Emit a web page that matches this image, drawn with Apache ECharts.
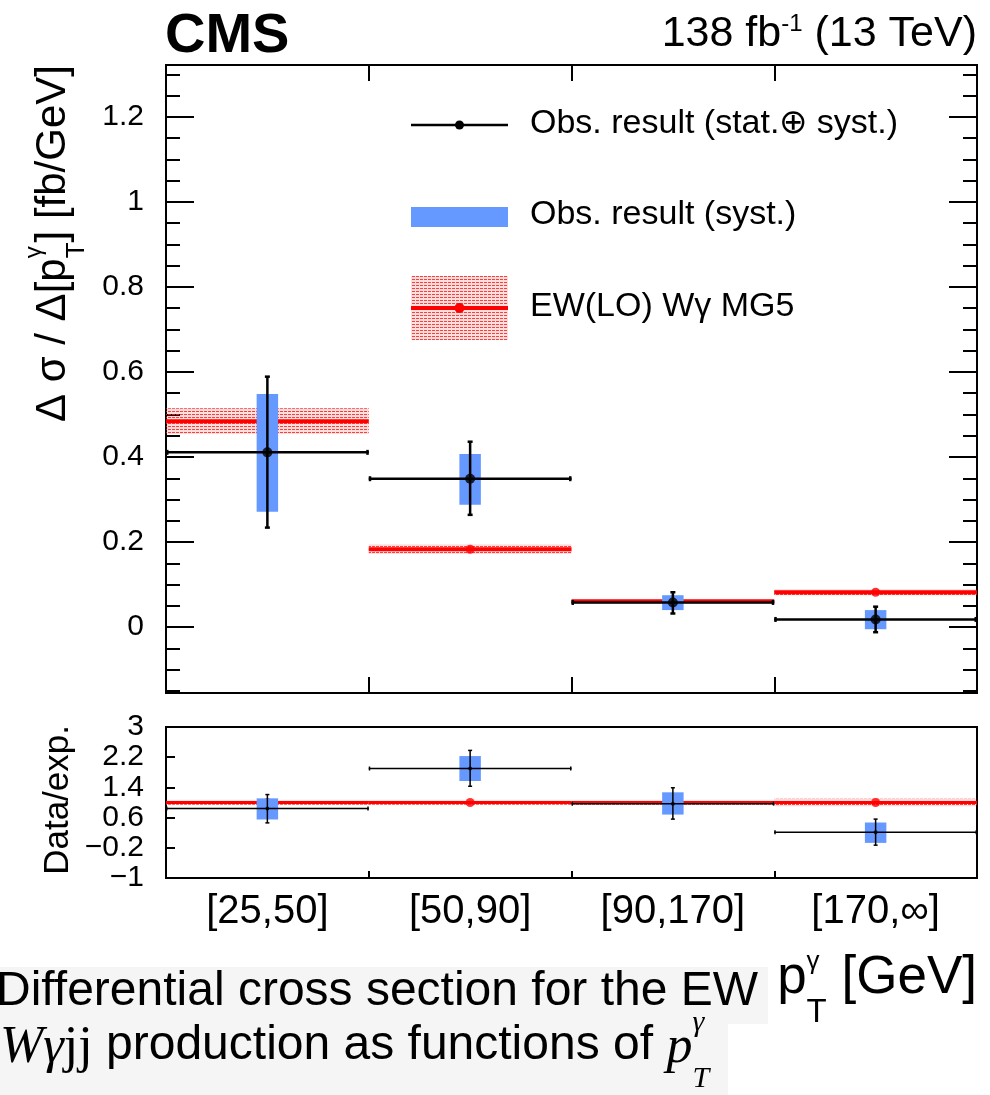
<!DOCTYPE html>
<html>
<head>
<meta charset="utf-8">
<script src="https://cdn.jsdelivr.net/npm/echarts@6/dist/echarts.min.js"></script>
<style>
  html, body { margin: 0; padding: 0; background: #fff; }
  #chart { width: 990px; height: 1095px; }
</style>
</head>
<body>
<div id="chart"></div>
<script>
// photon pT bins
const bins = ['[25,50]', '[50,90]', '[90,170]', '[170,\u221e]'];

// measured differential cross section (fb/GeV): central value, total and syst-only bounds
const obsValue    = [0.411, 0.349, 0.058, 0.018];
const obsTotLow   = [0.234, 0.264, 0.032, -0.012];
const obsTotHigh  = [0.589, 0.436, 0.082, 0.048];
const obsSystLow  = [0.271, 0.288, 0.040, -0.005];
const obsSystHigh = [0.548, 0.407, 0.075, 0.040];

// EW(LO) W-gamma MG5 prediction with its uncertainty band
const mcValue = [0.484, 0.183, 0.061, 0.082];
const mcLow   = [0.454, 0.172, 0.058, 0.075];
const mcHigh  = [0.515, 0.195, 0.064, 0.089];

// data / expectation
const ratioValue    = [0.84, 1.90, 0.97, 0.21];
const ratioTotLow   = [0.46, 1.43, 0.56, -0.13];
const ratioTotHigh  = [1.21, 2.38, 1.39, 0.56];
const ratioSystLow  = [0.55, 1.57, 0.68, -0.07];
const ratioSystHigh = [1.11, 2.23, 1.27, 0.47];
const mcRatio       = [1, 1, 1, 1];
const mcRatioLow    = [0.94, 0.94, 0.94, 0.90];
const mcRatioHigh   = [1.06, 1.06, 1.06, 1.10];

// axis tick labels
const mainTickValues  = [0, 0.2, 0.4, 0.6, 0.8, 1.0, 1.2];
const mainTickLabels  = ['0', '0.2', '0.4', '0.6', '0.8', '1', '1.2'];
const ratioTickValues = [-1, -0.2, 0.6, 1.4, 2.2, 3];
const ratioTickLabels = ['\u22121', '\u22120.2', '0.6', '1.4', '2.2', '3'];

// axis ranges
const mainMin = -0.155, mainMax = 1.322;
const ratioMin = -1, ratioMax = 3;

// layout
const PLOT_L = 166, PLOT_R = 977;
const MAIN_T = 65, MAIN_B = 693;
const RATIO_T = 727, RATIO_B = 878;
const FONT = '"Liberation Sans", Arial, Helvetica, sans-serif';
const SERIF = '"Liberation Serif", "Times New Roman", serif';
const BLUE = '#6699ff';
const RED = '#ff0000';
const SYST_HALF = 0.053;   // half width of the syst. box, as a fraction of the bin width

function mainPy(v) {
  return MAIN_T + (mainMax - v) / (mainMax - mainMin) * (MAIN_B - MAIN_T);
}

// text width helper, used to place titles made of several rich-text pieces
const measureCtx = document.createElement('canvas').getContext('2d');
function textWidth(str, size, family, style) {
  measureCtx.font = (style ? style + ' ' : '') + size + 'px ' + family;
  return measureCtx.measureText(str).width;
}

// dotted red fill used for the prediction uncertainty
function hatchTile() {
  const cv = document.createElement('canvas');
  cv.width = 4; cv.height = 3;
  const ctx = cv.getContext('2d');
  ctx.fillStyle = 'rgba(255,0,0,0.13)';
  ctx.fillRect(0, 0, 4, 3);
  ctx.fillStyle = 'rgba(255,30,30,0.85)';
  ctx.fillRect(0, 0, 3, 1);
  return cv;
}
const hatch = { image: hatchTile(), repeat: 'repeat' };

function rows(...cols) {
  return cols[0].map((_, i) => [i, ...cols.map(c => c[i])]);
}

function binEdges(api, i) {
  const xc = api.coord([i, 0])[0];
  const w = api.size([1, 0])[0];
  return [xc - w / 2, xc, xc + w / 2];
}

function bandItem(fill) {
  return (params, api) => {
    const i = api.value(0);
    const [x0, , x1] = binEdges(api, i);
    const yLo = api.coord([i, api.value(1)])[1];
    const yHi = api.coord([i, api.value(2)])[1];
    return { type: 'rect', shape: { x: x0, y: yHi, width: x1 - x0, height: yLo - yHi }, style: { fill: fill } };
  };
}

function lineItem(color, width) {
  return (params, api) => {
    const i = api.value(0);
    const [x0, , x1] = binEdges(api, i);
    const y = api.coord([i, api.value(1)])[1];
    return { type: 'line', shape: { x1: x0, y1: y, x2: x1, y2: y }, style: { stroke: color, lineWidth: width } };
  };
}

function boxItem(color) {
  return (params, api) => {
    const i = api.value(0);
    const [, xc] = binEdges(api, i);
    const hw = api.size([1, 0])[0] * SYST_HALF;
    const yLo = api.coord([i, api.value(1)])[1];
    const yHi = api.coord([i, api.value(2)])[1];
    return { type: 'rect', shape: { x: xc - hw, y: yHi, width: 2 * hw, height: yLo - yHi }, style: { fill: color } };
  };
}

function errItem(lw, cap) {
  return (params, api) => {
    const i = api.value(0);
    const [x0, xc, x1] = binEdges(api, i);
    const y = api.coord([i, api.value(1)])[1];
    const yLo = api.coord([i, api.value(2)])[1];
    const yHi = api.coord([i, api.value(3)])[1];
    const st = { stroke: '#000', lineWidth: lw };
    const L = (a, b, c, d) => ({ type: 'line', shape: { x1: a, y1: b, x2: c, y2: d }, style: st });
    return {
      type: 'group',
      children: [
        L(x0, y, x1, y),
        L(xc, yLo, xc, yHi),
        L(x0 + lw / 2, y - cap, x0 + lw / 2, y + cap),
        L(x1 - lw / 2, y - cap, x1 - lw / 2, y + cap),
        L(xc - cap, yLo, xc + cap, yLo),
        L(xc - cap, yHi, xc + cap, yHi)
      ]
    };
  };
}

function labelFrom(values, labels) {
  return v => {
    const k = values.findIndex(t => Math.abs(t - v) < 1e-6);
    return k < 0 ? '' : labels[k];
  };
}

const tickStyle = { color: '#000', width: 2 };
const frameGrid = (top, height) => ({
  left: PLOT_L, width: PLOT_R - PLOT_L, top: top, height: height,
  show: true, borderColor: '#000', borderWidth: 2, backgroundColor: 'transparent',
  containLabel: false, outerBoundsMode: 'none'
});
const plainGrid = (top, height) => ({
  left: PLOT_L, width: PLOT_R - PLOT_L, top: top, height: height,
  containLabel: false, outerBoundsMode: 'none'
});
const hiddenCat = gi => ({ type: 'category', gridIndex: gi, data: bins, boundaryGap: true, show: false });
const tickCat = (gi, pos, len, labels) => ({
  type: 'category', gridIndex: gi, data: bins, position: pos, boundaryGap: true,
  axisLine: { show: false, onZero: false },
  axisTick: { show: true, inside: true, length: len, interval: 0, alignWithLabel: false, lineStyle: tickStyle },
  axisLabel: labels ? { show: true, interval: 0, fontSize: 40, margin: 14, color: '#000', fontFamily: FONT } : { show: false },
  splitLine: { show: false }
});
const tickVal = (gi, pos, min, max, interval, len, formatter) => ({
  type: 'value', gridIndex: gi, position: pos, min: min, max: max, interval: interval,
  axisLine: { show: false, onZero: false },
  axisTick: { show: true, inside: true, length: len, lineStyle: tickStyle },
  axisLabel: formatter ? {
    show: true, fontSize: 30, margin: 22, color: '#000', fontFamily: FONT,
    showMinLabel: true, showMaxLabel: true, hideOverlap: false, formatter: formatter
  } : { show: false },
  splitLine: { show: false }, minorTick: { show: false }
});

const g1Top = mainPy(1.3), g1H = mainPy(-0.15) - mainPy(1.3);
const g2Top = mainPy(1.2), g2H = mainPy(0) - mainPy(1.2);

// --- titles ---
const yTitleLen = textWidth('\u0394 \u03c3 / \u0394[p', 42, FONT) + textWidth('T', 26, FONT) + textWidth('] [fb/GeV]', 42, FONT);
const xTitleLen = textWidth('p', 53, FONT) + textWidth('T', 33, FONT) + textWidth(' [GeV]', 53, FONT);

const texts = [
  { type: 'text', x: 165, y: 56 - 0.3465 * 56, z: 100,
    style: { text: 'CMS', fontSize: 56, fontWeight: 'bold', fontFamily: FONT, fill: '#000', align: 'left', verticalAlign: 'middle' } },
  { type: 'text', x: PLOT_R, y: 12.5, z: 100,
    style: {
      text: '{a|138 fb}{s|-1}{a| (13 TeV)}', align: 'right', verticalAlign: 'top', fill: '#000',
      rich: {
        a: { fontSize: 43, lineHeight: 42, fontFamily: FONT, verticalAlign: 'top', fill: '#000' },
        s: { fontSize: 24, lineHeight: 24, fontFamily: FONT, verticalAlign: 'top', fill: '#000' }
      }
    } },
  // y-axis title, main panel (reads upwards, ends at the top of the frame)
  { type: 'text', x: 46, y: MAIN_T + yTitleLen, rotation: Math.PI / 2, z: 100,
    style: {
      text: '{m|\u0394 \u03c3 / \u0394[p}{sup|\u03b3}{sub|T}{m|] [fb/GeV]}', align: 'left', verticalAlign: 'middle', fill: '#000',
      rich: {
        m: { fontSize: 42, lineHeight: 48, padding: [10, 0, 0, 0], fontFamily: FONT, verticalAlign: 'top', fill: '#000' },
        sup: { fontSize: 24, lineHeight: 24, width: 0, fontFamily: FONT, verticalAlign: 'top', fill: '#000' },
        sub: { fontSize: 26, lineHeight: 26, padding: [42, 0, 0, 0], fontFamily: FONT, verticalAlign: 'top', fill: '#000' }
      }
    } },
  // y-axis title, ratio panel
  { type: 'text', x: 58, y: RATIO_T - 2, rotation: Math.PI / 2, z: 100,
    style: { text: 'Data/exp.', fontSize: 35, fontFamily: FONT, fill: '#000', align: 'right', verticalAlign: 'middle' } },
  // x-axis title
  { type: 'text', x: PLOT_R - xTitleLen, y: 948.5, z: 100,
    style: {
      text: '{m|p}{sup|\u03b3}{sub|T}{m| [GeV]}', align: 'left', verticalAlign: 'top', fill: '#000',
      rich: {
        m: { fontSize: 53, lineHeight: 60, padding: [3, 0, 0, 0], fontFamily: FONT, verticalAlign: 'top', fill: '#000' },
        sup: { fontSize: 26, lineHeight: 26, width: 0, fontFamily: FONT, verticalAlign: 'top', fill: '#000' },
        sub: { fontSize: 33, lineHeight: 33, padding: [48, 0, 0, 0], fontFamily: FONT, verticalAlign: 'top', fill: '#000' }
      }
    } }
];

// --- legend ---
const LX0 = 411, LX1 = 508, LXC = 459.5, LTX = 530;
const legend = [
  { type: 'line', z: 100, shape: { x1: LX0, y1: 125, x2: LX1, y2: 125 }, style: { stroke: '#000', lineWidth: 2.5 } },
  { type: 'circle', z: 101, shape: { cx: LXC, cy: 125, r: 4.5 }, style: { fill: '#000' } },
  { type: 'rect', z: 100, shape: { x: LX0, y: 207, width: LX1 - LX0, height: 20 }, style: { fill: BLUE } },
  { type: 'rect', z: 100, shape: { x: LX0, y: 276, width: LX1 - LX0, height: 64 }, style: { fill: hatch } },
  { type: 'line', z: 101, shape: { x1: LX0, y1: 308, x2: LX1, y2: 308 }, style: { stroke: RED, lineWidth: 4 } },
  { type: 'circle', z: 102, shape: { cx: LXC, cy: 308, r: 5 }, style: { fill: RED } },
  { type: 'text', z: 100, x: LTX, y: 124,
    style: { text: 'Obs. result (stat.\u2295 syst.)', fontSize: 34, fontFamily: FONT, fill: '#000', align: 'left', verticalAlign: 'middle' } },
  { type: 'text', z: 100, x: LTX, y: 215,
    style: { text: 'Obs. result (syst.)', fontSize: 34, fontFamily: FONT, fill: '#000', align: 'left', verticalAlign: 'middle' } },
  { type: 'text', z: 100, x: LTX, y: 307,
    style: { text: 'EW(LO) W\u03b3 MG5', fontSize: 34, fontFamily: FONT, fill: '#000', align: 'left', verticalAlign: 'middle' } }
];

// --- caption under the figure ---
const caption = [
  { type: 'rect', z: 90, shape: { x: 0, y: 967, width: 768, height: 57 }, style: { fill: '#f5f5f5' } },
  { type: 'rect', z: 90, shape: { x: 0, y: 1024, width: 728, height: 71 }, style: { fill: '#f5f5f5' } },
  { type: 'text', z: 100, x: -4, y: 1008 - 0.3465 * 48, 
    style: { text: 'Differential cross section for the EW', fontSize: 48, fontFamily: FONT, fill: '#000', align: 'left', verticalAlign: 'middle' } },
  { type: 'text', z: 100, x: 0, y: 1008,
    style: {
      text: '{it|W\u03b3}{rm|jj}{sans| production as functions of }{it|p}{isup|\u03b3}{isub|T}',
      align: 'left', verticalAlign: 'top', fill: '#000',
      rich: {
        it: { fontSize: 52, lineHeight: 56, padding: [14, 0, 0, 0], fontFamily: SERIF, fontStyle: 'italic', verticalAlign: 'top', fill: '#000' },
        rm: { fontSize: 52, lineHeight: 56, padding: [14, 0, 0, 0], fontFamily: SERIF, verticalAlign: 'top', fill: '#000' },
        sans: { fontSize: 48, lineHeight: 56, padding: [14, 0, 0, 0], fontFamily: FONT, verticalAlign: 'top', fill: '#000' },
        isup: { fontSize: 30, lineHeight: 30, width: 0, fontFamily: SERIF, fontStyle: 'italic', verticalAlign: 'top', fill: '#000' },
        isub: { fontSize: 30, lineHeight: 30, padding: [56, 0, 0, 0], fontFamily: SERIF, fontStyle: 'italic', verticalAlign: 'top', fill: '#000' }
      }
    } }
];

const option = {
  animation: false,
  backgroundColor: '#fff',
  textStyle: { fontFamily: FONT },
  grid: [
    frameGrid(MAIN_T, MAIN_B - MAIN_T),     // 0: main panel frame and data
    plainGrid(g1Top, g1H),                  // 1: minor ticks of main panel
    plainGrid(g2Top, g2H),                  // 2: major ticks and labels of main panel
    frameGrid(RATIO_T, RATIO_B - RATIO_T)   // 3: ratio panel
  ],
  xAxis: [
    tickCat(0, 'bottom', 16, false),
    tickCat(0, 'top', 16, false),
    hiddenCat(1),
    hiddenCat(2),
    tickCat(3, 'bottom', 7, true)
  ],
  yAxis: [
    { type: 'value', gridIndex: 0, min: mainMin, max: mainMax, show: false, splitLine: { show: false } },
    tickVal(1, 'left', -0.15, 1.3, 0.05, 14, null),
    tickVal(1, 'right', -0.15, 1.3, 0.05, 14, null),
    tickVal(2, 'left', 0, 1.2, 0.2, 28, labelFrom(mainTickValues, mainTickLabels)),
    tickVal(2, 'right', 0, 1.2, 0.2, 28, null),
    tickVal(3, 'left', ratioMin, ratioMax, 0.8, 9, labelFrom(ratioTickValues, ratioTickLabels))
  ],
  graphic: { elements: [...texts, ...legend, ...caption] },
  series: [
    // main panel
    { type: 'custom', xAxisIndex: 0, yAxisIndex: 0, z: 1, silent: true, renderItem: bandItem(hatch), data: rows(mcLow, mcHigh) },
    { type: 'custom', xAxisIndex: 0, yAxisIndex: 0, z: 2, silent: true, renderItem: lineItem(RED, 4), data: rows(mcValue) },
    { type: 'scatter', xAxisIndex: 0, yAxisIndex: 0, z: 3, silent: true, symbol: 'circle', symbolSize: 9, itemStyle: { color: RED }, data: rows(mcValue) },
    { type: 'custom', xAxisIndex: 0, yAxisIndex: 0, z: 4, silent: true, renderItem: boxItem(BLUE), data: rows(obsSystLow, obsSystHigh) },
    { type: 'custom', xAxisIndex: 0, yAxisIndex: 0, z: 5, silent: true, renderItem: errItem(2.5, 2.5), data: rows(obsValue, obsTotLow, obsTotHigh) },
    { type: 'scatter', xAxisIndex: 0, yAxisIndex: 0, z: 6, silent: true, symbol: 'circle', symbolSize: 10, itemStyle: { color: '#000' }, data: rows(obsValue) },
    // ratio panel
    { type: 'custom', xAxisIndex: 4, yAxisIndex: 5, z: 1, silent: true, renderItem: bandItem(hatch), data: rows(mcRatioLow, mcRatioHigh) },
    { type: 'custom', xAxisIndex: 4, yAxisIndex: 5, z: 2, silent: true, renderItem: lineItem(RED, 3), data: rows(mcRatio) },
    { type: 'scatter', xAxisIndex: 4, yAxisIndex: 5, z: 3, silent: true, symbol: 'circle', symbolSize: 9, itemStyle: { color: RED }, data: rows(mcRatio) },
    { type: 'custom', xAxisIndex: 4, yAxisIndex: 5, z: 4, silent: true, renderItem: boxItem(BLUE), data: rows(ratioSystLow, ratioSystHigh) },
    { type: 'custom', xAxisIndex: 4, yAxisIndex: 5, z: 5, silent: true, renderItem: errItem(1.5, 2), data: rows(ratioValue, ratioTotLow, ratioTotHigh) },
    { type: 'scatter', xAxisIndex: 4, yAxisIndex: 5, z: 6, silent: true, symbol: 'circle', symbolSize: 4, itemStyle: { color: '#000' }, data: rows(ratioValue) }
  ]
};

const chart = echarts.init(document.getElementById('chart'), null, { renderer: 'canvas' });
chart.setOption(option);
</script>
</body>
</html>
